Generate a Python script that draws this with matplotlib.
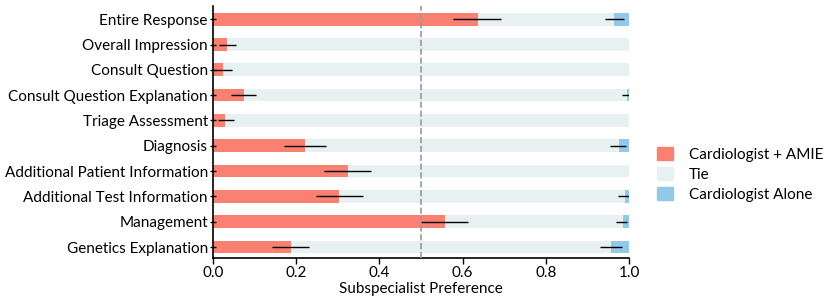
import numpy as np
import matplotlib
matplotlib.use('Agg')
import matplotlib.pyplot as plt
from matplotlib.patches import Patch

plt.rcParams['font.family'] = ['Lato', 'DejaVu Sans']

# categories, top to bottom
categories = ['Entire Response', 'Overall Impression', 'Consult Question',
              'Consult Question Explanation', 'Triage Assessment', 'Diagnosis',
              'Additional Patient Information', 'Additional Test Information',
              'Management', 'Genetics Explanation']

# share preferring Cardiologist + AMIE, and Cardiologist Alone
amie = [0.636, 0.035, 0.025, 0.074, 0.030, 0.221, 0.324, 0.304, 0.558, 0.187]
alone = [0.035, 0.0, 0.0, 0.005, 0.0, 0.024, 0.0, 0.010, 0.014, 0.044]

# confidence intervals (lower, upper) around the AMIE bar end
amie_lo = [0.578, 0.014, 0.005, 0.043, 0.013, 0.171, 0.268, 0.249, 0.500, 0.142]
amie_hi = [0.692, 0.055, 0.046, 0.105, 0.050, 0.272, 0.379, 0.360, 0.614, 0.232]
# confidence intervals around the start of the Alone bar (nan = none drawn)
alone_lo = [0.941, np.nan, np.nan, 0.984, np.nan, 0.954, np.nan, 0.974, 0.969, 0.930]
alone_hi = [0.987, np.nan, np.nan, 1.000, np.nan, 0.992, np.nan, 1.000, 0.996, 0.982]

c_amie = '#fa8072'
c_tie = '#e8f1f2'
c_alone = '#93c9e8'

amie = np.array(amie)
alone = np.array(alone)
tie = 1 - amie - alone
y = np.arange(len(categories))

fig, ax = plt.subplots(figsize=(8.31, 3.01), dpi=100)
fig.subplots_adjust(left=0.256, right=0.757, top=0.98, bottom=0.143)

fs = 11
h = 0.5
ax.barh(y, amie, height=h, color=c_amie)
ax.barh(y, tie, left=amie, height=h, color=c_tie)
ax.barh(y, alone, left=amie + tie, height=h, color=c_alone)

ax.hlines(y, amie_lo, amie_hi, color='black', lw=1, zorder=3)
ax.hlines(y, alone_lo, alone_hi, color='black', lw=1, zorder=3)

ax.axvline(0.5, color='#999999', ls='--', lw=1.2, zorder=4)

ax.set_yticks(y)
ax.set_yticklabels(categories, fontsize=fs)
ax.set_ylim(len(categories) - 0.57, -0.52)
ax.set_xlim(0, 1)
ax.set_xticks([0, 0.2, 0.4, 0.6, 0.8, 1.0])
ax.set_xticklabels(['0.0', '0.2', '0.4', '0.6', '0.8', '1.0'], fontsize=fs)
ax.set_xlabel('Subspecialist Preference', fontsize=fs, labelpad=1)
ax.tick_params(axis='y', direction='inout', length=5, width=1, pad=1)
ax.tick_params(axis='x', direction='out', length=4, width=1, pad=2)

for s in ['top', 'right']:
    ax.spines[s].set_visible(False)
ax.spines['left'].set_linewidth(1.2)
ax.spines['bottom'].set_linewidth(1.2)

handles = [Patch(color=c_amie, label='Cardiologist + AMIE'),
           Patch(color=c_tie, label='Tie'),
           Patch(color=c_alone, label='Cardiologist Alone')]
fig.legend(handles=handles, loc='center left', bbox_to_anchor=(0.781, 0.42),
           frameon=False, fontsize=fs, handlelength=1.1, handleheight=0.9,
           labelspacing=0.35, handletextpad=1.0, borderpad=0)

fig.savefig('out.png', dpi=100)
